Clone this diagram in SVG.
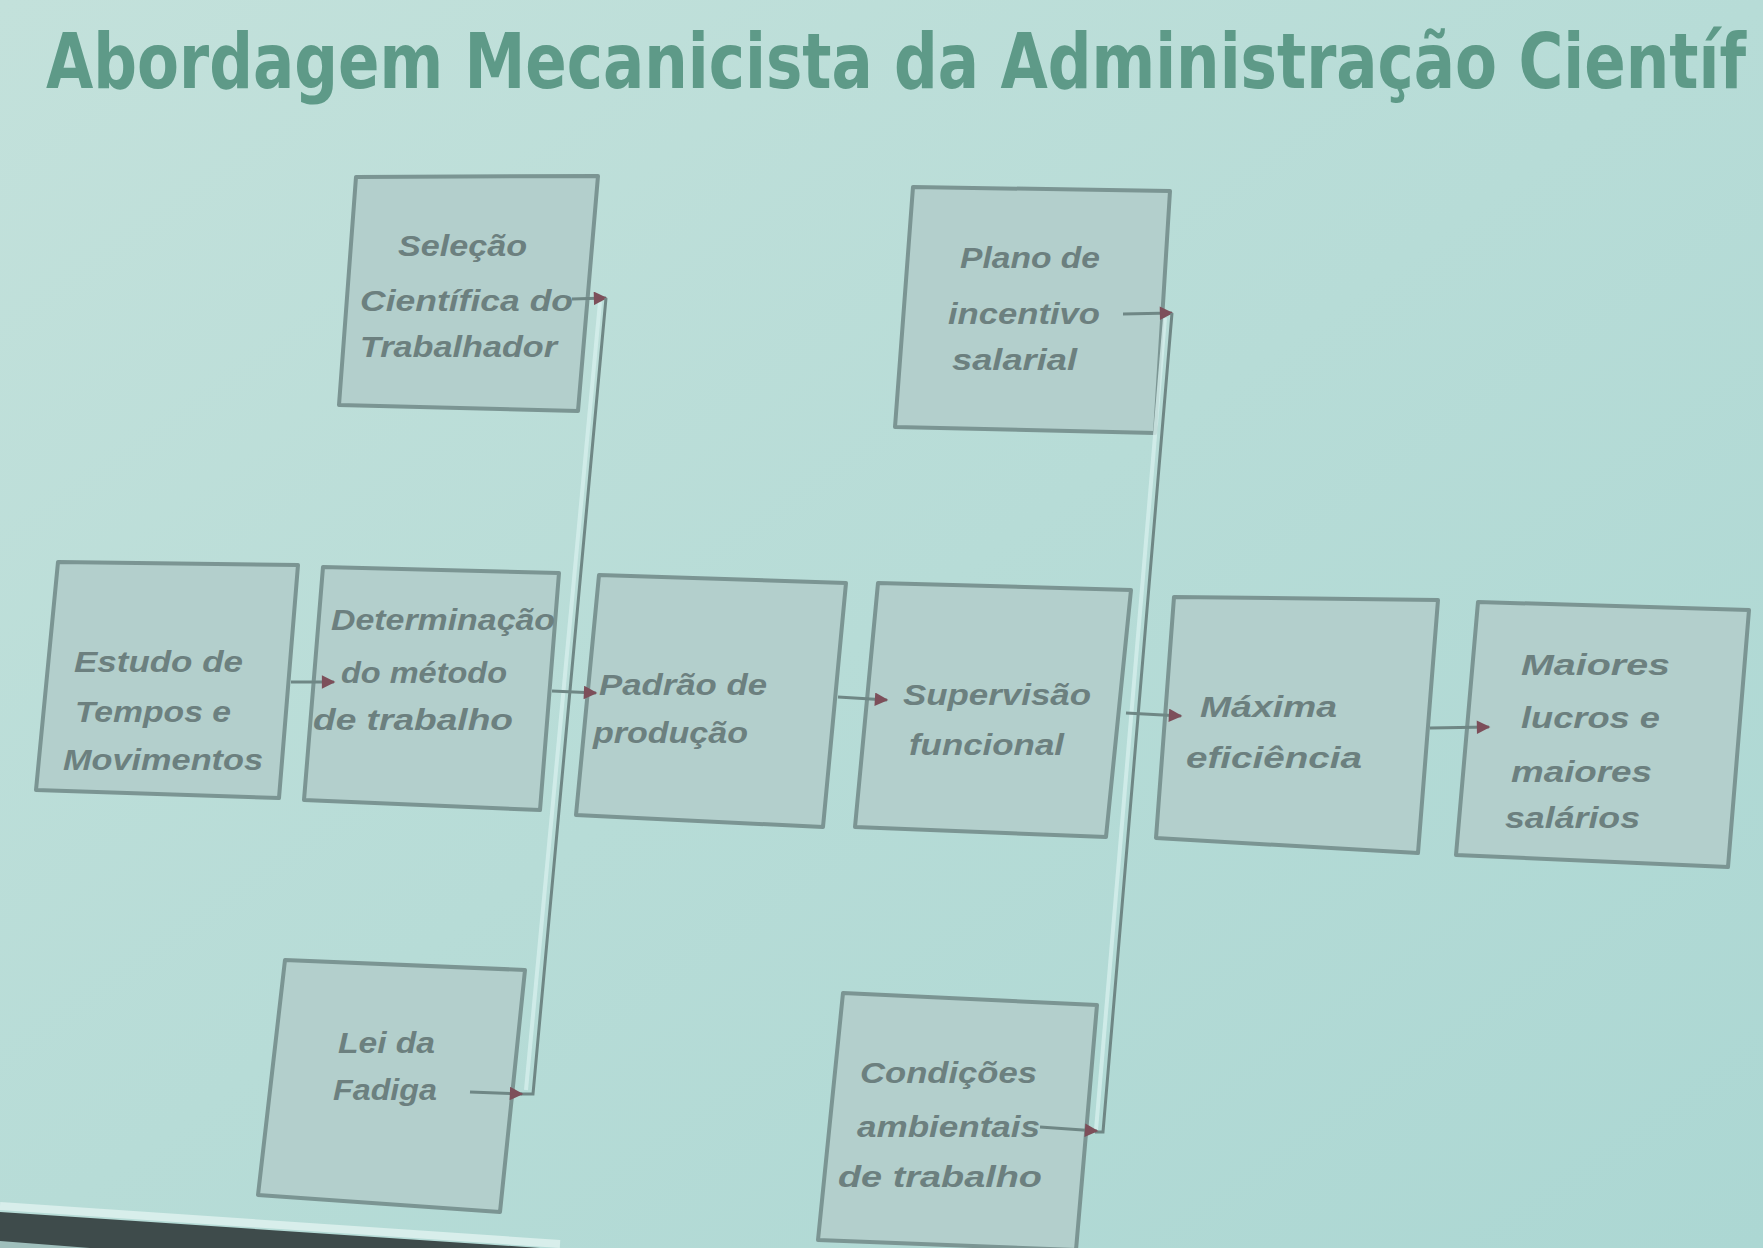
<svg xmlns="http://www.w3.org/2000/svg" width="1763" height="1248" viewBox="0 0 1763 1248">
  <defs>
    <linearGradient id="bg" x1="0" y1="0" x2="1" y2="1">
      <stop offset="0" stop-color="#c3e1db"/>
      <stop offset="0.5" stop-color="#b7dcd7"/>
      <stop offset="1" stop-color="#acd7d3"/>
    </linearGradient>
    <marker id="arr" viewBox="0 0 10 10" refX="9" refY="5" markerWidth="5" markerHeight="4.5" markerUnits="strokeWidth" orient="auto">
      <path d="M0,0 L10,5 L0,10 z" fill="#7d4f5a"/>
    </marker>
    <style>
      .box { fill: #b3cfcc; stroke: #7b9593; stroke-width: 4; stroke-linejoin: round; }
      .lbl { font-family: "Liberation Sans", Arial, sans-serif; font-style: italic; font-weight: bold; font-size: 29px; fill: #6c807f; }
      .title { font-family: "DejaVu Sans", Verdana, sans-serif; font-weight: bold; font-size: 60px; fill: #5e9a88; }
      .con { fill: none; stroke: #6f8785; stroke-width: 3; }
      .halo { fill: none; stroke: #d6efec; stroke-width: 4; opacity: 0.8; }
    </style>
  </defs>

  <rect x="0" y="0" width="1763" height="1248" fill="url(#bg)"/>

  <g transform="translate(46,88) scale(1,1.27)">
    <text class="title" x="0" y="0" textLength="1700" lengthAdjust="spacingAndGlyphs">Abordagem Mecanicista da Administração Científ</text>
  </g>

  <g id="selecao">
    <polygon class="box" points="356,177 598,176 578,411 339,405"/>
    <text class="lbl" x="398" y="256" textLength="129" lengthAdjust="spacingAndGlyphs">Seleção</text>
    <text class="lbl" x="360" y="311" textLength="213" lengthAdjust="spacingAndGlyphs">Científica do</text>
    <text class="lbl" x="360" y="357" textLength="197" lengthAdjust="spacingAndGlyphs">Trabalhador</text>
  </g>

  <g id="plano">
    <polygon class="box" points="913,187 1170,191 1155,433 895,427"/>
    <text class="lbl" x="960" y="268" textLength="140" lengthAdjust="spacingAndGlyphs">Plano de</text>
    <text class="lbl" x="948" y="324" textLength="152" lengthAdjust="spacingAndGlyphs">incentivo</text>
    <text class="lbl" x="952" y="370" textLength="125" lengthAdjust="spacingAndGlyphs">salarial</text>
  </g>

  <g id="estudo">
    <polygon class="box" points="58,562 298,565 279,798 36,790"/>
    <text class="lbl" x="74" y="672" textLength="169" lengthAdjust="spacingAndGlyphs">Estudo de</text>
    <text class="lbl" x="75" y="722" textLength="156" lengthAdjust="spacingAndGlyphs">Tempos e</text>
    <text class="lbl" x="63" y="770" textLength="200" lengthAdjust="spacingAndGlyphs">Movimentos</text>
  </g>

  <g id="determinacao">
    <polygon class="box" points="323,567 559,573 540,810 304,800"/>
    <text class="lbl" x="331" y="630" textLength="224" lengthAdjust="spacingAndGlyphs">Determinação</text>
    <text class="lbl" x="341" y="683" textLength="166" lengthAdjust="spacingAndGlyphs">do método</text>
    <text class="lbl" x="313" y="730" textLength="200" lengthAdjust="spacingAndGlyphs">de trabalho</text>
  </g>

  <g id="padrao">
    <polygon class="box" points="599,575 846,583 823,827 576,815"/>
    <text class="lbl" x="599" y="695" textLength="168" lengthAdjust="spacingAndGlyphs">Padrão de</text>
    <text class="lbl" x="593" y="743" textLength="155" lengthAdjust="spacingAndGlyphs">produção</text>
  </g>

  <g id="supervisao">
    <polygon class="box" points="878,583 1131,590 1106,837 855,827"/>
    <text class="lbl" x="903" y="705" textLength="188" lengthAdjust="spacingAndGlyphs">Supervisão</text>
    <text class="lbl" x="909" y="755" textLength="155" lengthAdjust="spacingAndGlyphs">funcional</text>
  </g>

  <g id="maxima">
    <polygon class="box" points="1174,597 1438,600 1418,853 1156,838"/>
    <text class="lbl" x="1200" y="717" textLength="137" lengthAdjust="spacingAndGlyphs">Máxima</text>
    <text class="lbl" x="1186" y="768" textLength="176" lengthAdjust="spacingAndGlyphs">eficiência</text>
  </g>

  <g id="maiores">
    <polygon class="box" points="1478,602 1749,610 1728,867 1456,855"/>
    <text class="lbl" x="1521" y="675" textLength="149" lengthAdjust="spacingAndGlyphs">Maiores</text>
    <text class="lbl" x="1521" y="728" textLength="139" lengthAdjust="spacingAndGlyphs">lucros e</text>
    <text class="lbl" x="1511" y="782" textLength="141" lengthAdjust="spacingAndGlyphs">maiores</text>
    <text class="lbl" x="1505" y="828" textLength="135" lengthAdjust="spacingAndGlyphs">salários</text>
  </g>

  <g id="fadiga">
    <polygon class="box" points="285,960 525,970 500,1212 258,1195"/>
    <text class="lbl" x="338" y="1053" textLength="97" lengthAdjust="spacingAndGlyphs">Lei da</text>
    <text class="lbl" x="333" y="1100" textLength="104" lengthAdjust="spacingAndGlyphs">Fadiga</text>
  </g>

  <g id="condicoes">
    <polygon class="box" points="843,993 1097,1005 1076,1250 818,1240"/>
    <text class="lbl" x="860" y="1083" textLength="177" lengthAdjust="spacingAndGlyphs">Condições</text>
    <text class="lbl" x="857" y="1137" textLength="183" lengthAdjust="spacingAndGlyphs">ambientais</text>
    <text class="lbl" x="838" y="1187" textLength="204" lengthAdjust="spacingAndGlyphs">de trabalho</text>
  </g>

  <!-- connectors drawn on top of the boxes -->
  <g id="connectors">
    <path class="halo" d="M600,302 L526,1090"/>
    <path class="halo" d="M1165,318 L1096,1130"/>
    <path class="con" d="M572,299 L606,298" marker-end="url(#arr)"/>
    <path class="con" d="M606,298 L533,1094 L521,1094"/>
    <path class="con" d="M470,1092 L522,1094" marker-end="url(#arr)"/>
    <path class="con" d="M552,691 L596,693" marker-end="url(#arr)"/>
    <path class="con" d="M291,682 L334,682" marker-end="url(#arr)"/>
    <path class="con" d="M838,697 L887,700" marker-end="url(#arr)"/>
    <path class="con" d="M1123,314 L1172,313" marker-end="url(#arr)"/>
    <path class="con" d="M1172,313 L1103,1132 L1095,1132"/>
    <path class="con" d="M1040,1127 L1097,1131" marker-end="url(#arr)"/>
    <path class="con" d="M1126,713 L1181,716" marker-end="url(#arr)"/>
    <path class="con" d="M1430,728 L1489,727" marker-end="url(#arr)"/>
  </g>

  <!-- screen edge at bottom-left -->
  <path d="M0,1206 L560,1244" stroke="#d8eeeb" stroke-width="8" fill="none"/>
  <polygon points="0,1212 540,1248 0,1248" fill="#3e4b4b"/>
  <polygon points="0,1241 0,1248 90,1248" fill="#9fbfbc"/>
</svg>
